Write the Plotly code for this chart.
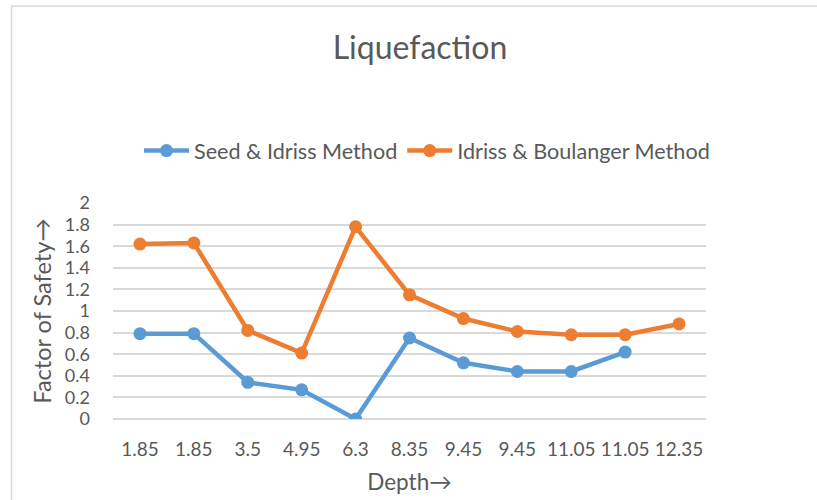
import plotly.graph_objects as go

depth_labels = ["1.85", "1.85", "3.5", "4.95", "6.3", "8.35", "9.45", "9.45", "11.05", "11.05", "12.35"]
seed_idriss = [0.79, 0.79, 0.34, 0.27, 0.00, 0.75, 0.52, 0.44, 0.44, 0.62, None]
idriss_boulanger = [1.62, 1.63, 0.82, 0.61, 1.78, 1.15, 0.93, 0.81, 0.78, 0.78, 0.88]
y_ticks = [0, 0.2, 0.4, 0.6, 0.8, 1, 1.2, 1.4, 1.6, 1.8, 2]
y_tick_text = ["0", "0.2", "0.4", "0.6", "0.8", "1", "1.2", "1.4", "1.6", "1.8", "2"]

x_idx = list(range(len(depth_labels)))
FONT = "Lato, 'Open Sans', sans-serif"
GREY = "#595959"

fig = go.Figure()
fig.add_trace(go.Scatter(
    x=x_idx, y=seed_idriss, mode="lines+markers", name="Seed & Idriss Method",
    line=dict(color="#5B9BD5", width=4.5), marker=dict(size=13, color="#5B9BD5"),
    connectgaps=False))
fig.add_trace(go.Scatter(
    x=x_idx, y=idriss_boulanger, mode="lines+markers", name="Idriss & Boulanger Method",
    line=dict(color="#ED7D31", width=4.5), marker=dict(size=13, color="#ED7D31")))

L, R, T, B = 113, 111, 203, 81
W, H = 817, 500
pw, ph = W - L - R, H - T - B

def px_x(p):
    return (p - L) / pw

def px_y(p):
    return (H - B - p) / ph

fig.update_layout(
    width=W, height=H,
    margin=dict(l=L, r=R, t=T, b=B, autoexpand=False),
    paper_bgcolor="white", plot_bgcolor="white",
    font=dict(family=FONT, color=GREY),
    title=dict(text="Liquefaction", x=px_x(420), xref="paper", xanchor="center",
               y=1 - 48 / H, yanchor="middle", font=dict(size=32, color=GREY)),
    showlegend=True,
    legend=dict(orientation="h", x=px_x(427), xanchor="center", y=px_y(151), yanchor="middle",
                font=dict(size=21.6, color=GREY), itemwidth=45, traceorder="normal",
                bgcolor="rgba(0,0,0,0)"),
    xaxis=dict(range=[-0.5, len(depth_labels) - 0.5], tickmode="array", tickvals=x_idx,
               ticktext=depth_labels, showgrid=False, zeroline=False, showline=False,
               ticks="", tickfont=dict(size=19, color=GREY), ticklabelstandoff=17,
               automargin=False,
               title=dict(text="Depth→", font=dict(size=22.5, color=GREY), standoff=15)),
    yaxis=dict(range=[0, 2], tickmode="array", tickvals=y_ticks, ticktext=y_tick_text,
               showgrid=True, gridcolor="#D9D9D9", gridwidth=1.5, zeroline=True,
               zerolinecolor="#D9D9D9", zerolinewidth=1.5, showline=False, ticks="",
               tickfont=dict(size=18, color=GREY), ticklabelstandoff=22,
               automargin=False,
               title=dict(text="Factor of Safety→", font=dict(size=23.5, color=GREY), standoff=6)),
    shapes=[dict(type="rect", xref="paper", yref="paper",
                 x0=px_x(11.5), x1=px_x(840), y0=px_y(520), y1=px_y(6),
                 line=dict(color="#D9D9D9", width=1.5), fillcolor="rgba(0,0,0,0)", layer="below")],
)

fig.write_html("out.html", config={"displayModeBar": False},
               post_script="document.body.style.margin='0';")
